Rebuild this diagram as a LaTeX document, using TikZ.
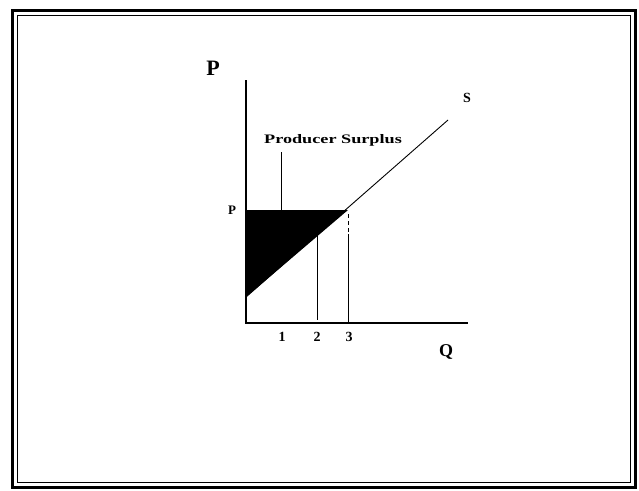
\documentclass[tikz,border=0pt]{standalone}
\usepackage{fontspec}
\setmainfont{Liberation Serif}
\begin{document}
\begin{tikzpicture}[x=1pt,y=-1pt,
  axis/.style={line width=1.3pt},
  thin/.style={line width=0.9pt},
  lbl/.style={font=\bfseries, inner sep=0pt}]
\useasboundingbox (0,0) rectangle (639,490);
\fill[white] (0,0) rectangle (639,490);
% frame
\draw[line width=3pt] (12,10) rectangle (635,487);
\draw[line width=0.9pt] (17,15) rectangle (630,482);
% coordinates
\coordinate (O) at (246,323);
\coordinate (Ytop) at (246,80);
\coordinate (Xend) at (468,323);
\coordinate (S0) at (246,297);
\coordinate (S1) at (448,120);
\coordinate (Pa) at (246,210);
\coordinate (E) at (348,210);
% producer surplus area
\fill[black] (Pa) -- (E) -- (S0) -- cycle;
% axes
\draw[axis] (Ytop) -- (O) -- (Xend);
% supply
\draw[thin] (S0) -- (S1);
% pointer line
\coordinate (L1top) at (281,152);
\coordinate (L1bot) at (281,210);
\draw[thin] (L1top) -- (L1bot);
% vertical lines
\coordinate (L2top) at (317,235);
\coordinate (L2bot) at (317,320);
\draw[thin] (L2top) -- (L2bot);
\coordinate (L3a) at (348,214);
\coordinate (L3b) at (348,234);
\coordinate (L3c) at (348,323);
\draw[thin, dash pattern=on 4pt off 3pt] (L3a) -- (L3b);
\draw[thin] (L3b) -- (L3c);
% labels
\node[lbl, font=\bfseries\fontsize{22}{24}\selectfont] (Plab) at (213,68) {P};
\node[lbl, font=\bfseries\fontsize{13}{15}\selectfont] (Pp) at (232,210) {P};
\node[lbl, font=\bfseries\fontsize{14}{16}\selectfont] (Slab) at (467,98) {S};
\node[lbl, font=\bfseries\fontsize{13}{15}\selectfont, xscale=1.4] (PS) at (333,140) {Producer Surplus};
\node[lbl, font=\bfseries\fontsize{14}{16}\selectfont] (t1) at (282,337) {1};
\node[lbl, font=\bfseries\fontsize{14}{16}\selectfont] (t2) at (317,337) {2};
\node[lbl, font=\bfseries\fontsize{14}{16}\selectfont] (t3) at (349,337) {3};
\node[lbl, font=\bfseries\fontsize{18}{20}\selectfont] (Q) at (446,352) {Q};
\end{tikzpicture}
\end{document}
